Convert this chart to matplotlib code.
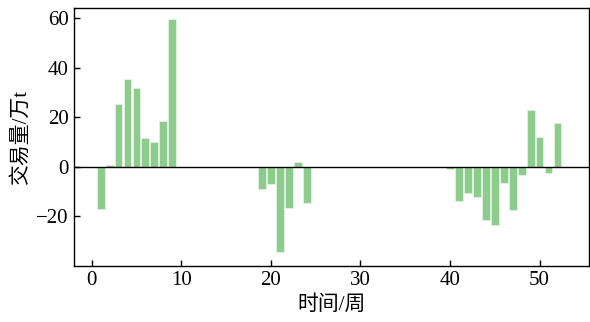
import matplotlib
matplotlib.use("Agg")
import matplotlib.pyplot as plt

plt.rcParams["font.family"] = ["Liberation Serif", "Noto Sans CJK SC"]
plt.rcParams["axes.unicode_minus"] = True

# 每周交易量 (万t)
weeks = [1, 2, 3, 4, 5, 6, 7, 8, 9,
         19, 20, 21, 22, 23, 24,
         40, 41, 42, 43, 44, 45, 46, 47, 48, 49, 50, 51, 52]
volume = [-17.0, 0.8, 25.3, 35.4, 31.7, 11.4, 10.0, 18.3, 59.5,
          -8.9, -6.8, -34.4, -16.7, 1.9, -14.7,
          -0.8, -13.7, -10.6, -12.1, -21.6, -23.6, -6.7, -17.5, -3.5,
          22.7, 11.9, -2.6, 17.7]

fig = plt.figure(figsize=(5.9, 3.22), dpi=100)
ax = fig.add_axes([0.125, 0.174, 0.873, 0.801])

ax.bar(weeks, volume, width=0.88, color="#8ecc8e", edgecolor="#f0f8f0", linewidth=0.4)
ax.axhline(0, color="black", linewidth=1.0)

ax.set_xlim(-2, 55.5)
ax.set_ylim(-40, 64)
ax.set_xticks([0, 10, 20, 30, 40, 50])
ax.set_yticks([-20, 0, 20, 40, 60])
ax.tick_params(direction="in", labelsize=15, length=4, width=1)
for s in ax.spines.values():
    s.set_linewidth(1.0)

ax.set_xlabel("时间/周", fontsize=15, labelpad=4)
ax.set_ylabel("交易量/万t", fontsize=15, labelpad=4)

fig.savefig("out.png", dpi=100)
